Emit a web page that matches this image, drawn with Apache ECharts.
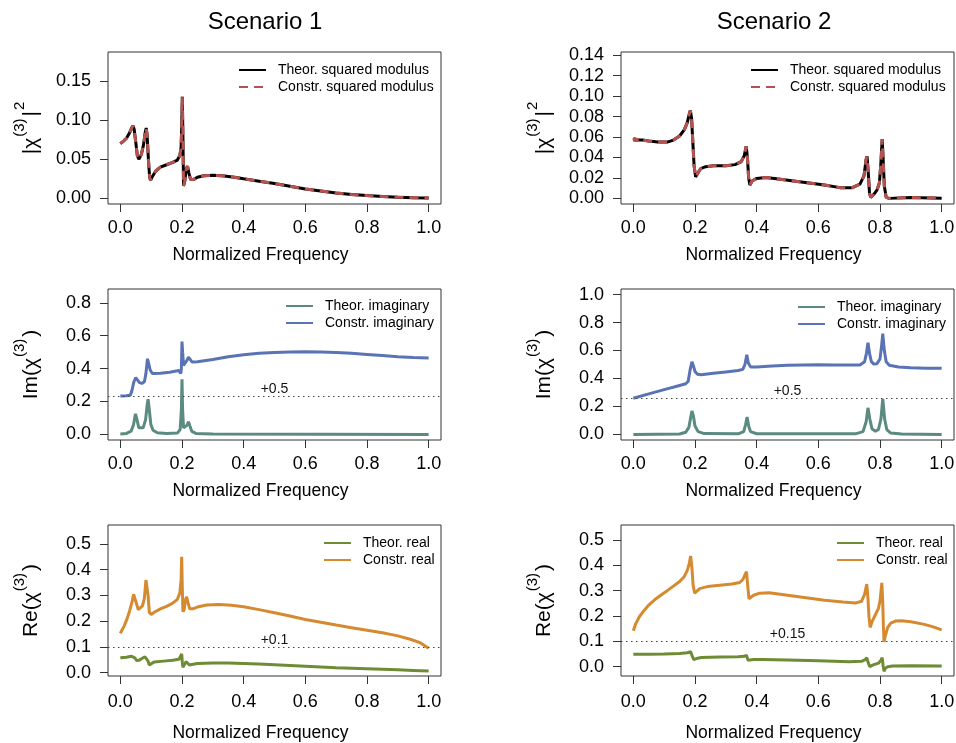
<!DOCTYPE html>
<html>
<head>
<meta charset="utf-8">
<script src="https://cdn.jsdelivr.net/npm/echarts@6/dist/echarts.min.js"></script>
<style>
  html, body { margin: 0; padding: 0; background: #fff; }
  #chart { width: 956px; height: 743px; }
</style>
</head>
<body>
<div id="chart"></div>
<script>
// ---- data ----
var xTicks = [0, 0.2, 0.4, 0.6, 0.8, 1.0];

// Scenario 1, squared modulus
var sq1Freq = [0, 0.01, 0.02, 0.03, 0.037, 0.041, 0.045, 0.05, 0.055, 0.06, 0.068, 0.075, 0.081, 0.084, 0.087, 0.091, 0.095, 0.098, 0.104, 0.115, 0.13, 0.15, 0.17, 0.185, 0.193, 0.197, 0.199, 0.201, 0.203, 0.205, 0.209, 0.214, 0.218, 0.222, 0.228, 0.237, 0.25, 0.27, 0.3, 0.33, 0.37, 0.4, 0.45, 0.5, 0.55, 0.6, 0.65, 0.7, 0.75, 0.8, 0.85, 0.9, 0.95, 1.0];
var sq1Theor = [0.070, 0.073, 0.077, 0.084, 0.090, 0.093, 0.088, 0.072, 0.055, 0.050, 0.056, 0.068, 0.085, 0.090, 0.080, 0.050, 0.027, 0.023, 0.028, 0.035, 0.040, 0.043, 0.046, 0.049, 0.055, 0.065, 0.090, 0.130, 0.080, 0.016, 0.022, 0.038, 0.041, 0.033, 0.024, 0.024, 0.027, 0.029, 0.0295, 0.029, 0.027, 0.025, 0.022, 0.019, 0.0155, 0.012, 0.0095, 0.007, 0.005, 0.0036, 0.0025, 0.0015, 0.0009, 0.0005];
var sq1Constr = sq1Theor;

// Scenario 2, squared modulus
var sq2Freq = [0, 0.005, 0.01, 0.015, 0.02, 0.03, 0.05, 0.08, 0.11, 0.13, 0.15, 0.165, 0.175, 0.181, 0.185, 0.189, 0.193, 0.197, 0.202, 0.208, 0.218, 0.235, 0.26, 0.3, 0.33, 0.35, 0.36, 0.366, 0.37, 0.374, 0.378, 0.385, 0.4, 0.43, 0.47, 0.52, 0.57, 0.62, 0.67, 0.71, 0.735, 0.748, 0.755, 0.758, 0.762, 0.766, 0.77, 0.78, 0.79, 0.798, 0.803, 0.807, 0.81, 0.814, 0.82, 0.83, 0.9, 1.0];
var sq2Theor = [0.057, 0.057, 0.057, 0.057, 0.057, 0.057, 0.056, 0.055, 0.055, 0.057, 0.061, 0.067, 0.074, 0.082, 0.086, 0.078, 0.055, 0.032, 0.021, 0.024, 0.029, 0.031, 0.032, 0.032, 0.033, 0.036, 0.042, 0.051, 0.040, 0.020, 0.013, 0.017, 0.0195, 0.0205, 0.019, 0.017, 0.015, 0.013, 0.0105, 0.0105, 0.014, 0.022, 0.038, 0.041, 0.025, 0.005, 0.001, 0.004, 0.008, 0.015, 0.035, 0.058, 0.040, 0.012, 0.001, 0.000, 0.0008, 0.0002];
var sq2Constr = [0.057, 0.059, 0.056, 0.058, 0.056, 0.057, 0.056, 0.055, 0.055, 0.057, 0.061, 0.067, 0.074, 0.082, 0.086, 0.078, 0.055, 0.032, 0.021, 0.024, 0.029, 0.031, 0.032, 0.032, 0.033, 0.036, 0.042, 0.051, 0.040, 0.020, 0.013, 0.017, 0.0195, 0.0205, 0.019, 0.017, 0.015, 0.013, 0.0105, 0.0105, 0.014, 0.022, 0.038, 0.041, 0.025, 0.005, 0.001, 0.004, 0.008, 0.015, 0.035, 0.058, 0.040, 0.012, 0.001, 0.000, 0.0008, 0.0002];

// Scenario 1, imaginary part
var im1TheorFreq = [0, 0.02, 0.035, 0.043, 0.049, 0.054, 0.06, 0.066, 0.074, 0.082, 0.087, 0.09, 0.094, 0.099, 0.106, 0.12, 0.15, 0.185, 0.194, 0.198, 0.2, 0.202, 0.205, 0.21, 0.216, 0.221, 0.226, 0.232, 0.245, 0.3, 1.0];
var im1Theor = [0.003, 0.006, 0.020, 0.060, 0.125, 0.090, 0.040, 0.030, 0.040, 0.090, 0.180, 0.214, 0.150, 0.060, 0.025, 0.010, 0.005, 0.008, 0.030, 0.150, 0.335, 0.150, 0.040, 0.035, 0.055, 0.077, 0.050, 0.018, 0.006, 0.002, 0.0];
var im1ConstrFreq = [0, 0.02, 0.033, 0.038, 0.044, 0.05, 0.055, 0.062, 0.07, 0.078, 0.083, 0.088, 0.092, 0.097, 0.104, 0.13, 0.16, 0.19, 0.196, 0.198, 0.2, 0.202, 0.205, 0.21, 0.216, 0.221, 0.226, 0.233, 0.25, 0.3, 0.35, 0.4, 0.45, 0.5, 0.55, 0.6, 0.65, 0.7, 0.75, 0.8, 0.85, 0.9, 0.95, 1.0];
var im1Constr = [0.233, 0.235, 0.24, 0.27, 0.32, 0.345, 0.34, 0.315, 0.31, 0.32, 0.37, 0.46, 0.43, 0.39, 0.37, 0.372, 0.378, 0.388, 0.37, 0.40, 0.565, 0.50, 0.42, 0.425, 0.45, 0.47, 0.46, 0.44, 0.442, 0.455, 0.472, 0.484, 0.493, 0.498, 0.501, 0.502, 0.501, 0.498, 0.493, 0.486, 0.479, 0.472, 0.467, 0.464];

// Scenario 2, imaginary part
var im2TheorFreq = [0, 0.15, 0.17, 0.18, 0.186, 0.19, 0.195, 0.2, 0.21, 0.23, 0.34, 0.358, 0.364, 0.369, 0.374, 0.38, 0.4, 0.72, 0.745, 0.755, 0.761, 0.767, 0.774, 0.785, 0.795, 0.803, 0.809, 0.815, 0.822, 0.835, 0.87, 1.0];
var im2Theor = [0.0, 0.003, 0.015, 0.05, 0.12, 0.168, 0.13, 0.06, 0.02, 0.006, 0.004, 0.02, 0.07, 0.124, 0.06, 0.02, 0.005, 0.004, 0.02, 0.09, 0.19, 0.11, 0.04, 0.022, 0.035, 0.11, 0.254, 0.11, 0.035, 0.01, 0.003, 0.0];
var im2ConstrFreq = [0, 0.05, 0.1, 0.15, 0.17, 0.178, 0.184, 0.19, 0.195, 0.2, 0.208, 0.22, 0.26, 0.3, 0.34, 0.355, 0.362, 0.368, 0.373, 0.38, 0.4, 0.45, 0.5, 0.55, 0.6, 0.65, 0.7, 0.735, 0.75, 0.756, 0.761, 0.766, 0.772, 0.78, 0.79, 0.8, 0.805, 0.809, 0.814, 0.82, 0.83, 0.86, 0.9, 0.95, 1.0];
var im2Constr = [0.259, 0.29, 0.32, 0.35, 0.362, 0.38, 0.46, 0.52, 0.49, 0.45, 0.43, 0.427, 0.437, 0.447, 0.457, 0.465, 0.50, 0.57, 0.51, 0.483, 0.482, 0.49, 0.495, 0.497, 0.498, 0.497, 0.496, 0.497, 0.52, 0.58, 0.655, 0.58, 0.52, 0.503, 0.505, 0.54, 0.63, 0.72, 0.6, 0.52, 0.495, 0.482, 0.476, 0.474, 0.474];

// Scenario 1, real part
var re1TheorFreq = [0, 0.02, 0.035, 0.041, 0.047, 0.053, 0.06, 0.07, 0.08, 0.085, 0.09, 0.094, 0.1, 0.11, 0.14, 0.17, 0.19, 0.196, 0.199, 0.201, 0.203, 0.207, 0.213, 0.218, 0.224, 0.232, 0.25, 0.3, 0.35, 0.4, 0.45, 0.5, 0.55, 0.6, 0.65, 0.7, 0.75, 0.8, 0.85, 0.9, 0.95, 1.0];
var re1Theor = [0.058, 0.060, 0.064, 0.065, 0.058, 0.047, 0.048, 0.055, 0.062, 0.060, 0.045, 0.030, 0.036, 0.042, 0.045, 0.048, 0.052, 0.058, 0.073, 0.040, 0.021, 0.030, 0.043, 0.040, 0.030, 0.032, 0.036, 0.038, 0.038, 0.036, 0.034, 0.031, 0.028, 0.025, 0.022, 0.019, 0.017, 0.015, 0.013, 0.011, 0.009, 0.007];
var re1ConstrFreq = [0, 0.005, 0.012, 0.022, 0.03, 0.037, 0.043, 0.047, 0.052, 0.058, 0.064, 0.072, 0.078, 0.083, 0.086, 0.09, 0.094, 0.1, 0.11, 0.13, 0.15, 0.17, 0.185, 0.193, 0.197, 0.199, 0.201, 0.203, 0.207, 0.212, 0.215, 0.22, 0.225, 0.235, 0.25, 0.28, 0.32, 0.36, 0.4, 0.45, 0.5, 0.55, 0.6, 0.65, 0.7, 0.75, 0.8, 0.85, 0.9, 0.94, 0.97, 1.0];
var re1Constr = [0.153, 0.165, 0.18, 0.21, 0.24, 0.27, 0.305, 0.30, 0.27, 0.245, 0.245, 0.26, 0.29, 0.36, 0.365, 0.30, 0.235, 0.226, 0.235, 0.248, 0.258, 0.27, 0.285, 0.31, 0.36, 0.45, 0.33, 0.237, 0.245, 0.285, 0.295, 0.27, 0.248, 0.248, 0.255, 0.263, 0.265, 0.262, 0.256, 0.245, 0.233, 0.22, 0.207, 0.196, 0.185, 0.175, 0.165, 0.155, 0.143, 0.13, 0.118, 0.095];

// Scenario 2, real part
var re2TheorFreq = [0, 0.05, 0.1, 0.15, 0.175, 0.186, 0.19, 0.196, 0.205, 0.22, 0.28, 0.34, 0.36, 0.367, 0.372, 0.378, 0.39, 0.42, 0.5, 0.6, 0.7, 0.74, 0.752, 0.757, 0.762, 0.767, 0.778, 0.795, 0.803, 0.807, 0.81, 0.813, 0.818, 0.826, 0.84, 0.9, 1.0];
var re2Theor = [0.049, 0.049, 0.050, 0.052, 0.055, 0.059, 0.045, 0.028, 0.032, 0.036, 0.038, 0.039, 0.041, 0.045, 0.025, 0.020, 0.028, 0.028, 0.026, 0.023, 0.020, 0.021, 0.028, 0.036, 0.015, 0.0, 0.007, 0.014, 0.025, 0.036, 0.005, -0.018, -0.005, 0.0, 0.003, 0.004, 0.003];
var re2ConstrFreq = [0, 0.008, 0.02, 0.035, 0.05, 0.07, 0.09, 0.11, 0.13, 0.15, 0.165, 0.175, 0.181, 0.186, 0.19, 0.194, 0.199, 0.205, 0.215, 0.24, 0.28, 0.32, 0.345, 0.356, 0.362, 0.367, 0.371, 0.375, 0.38, 0.39, 0.41, 0.44, 0.5, 0.56, 0.62, 0.68, 0.72, 0.74, 0.75, 0.757, 0.761, 0.764, 0.768, 0.775, 0.785, 0.795, 0.8, 0.806, 0.809, 0.811, 0.813, 0.818, 0.825, 0.835, 0.85, 0.87, 0.9, 0.94, 0.97, 1.0];
var re2Constr = [0.142, 0.17, 0.198, 0.222, 0.243, 0.265, 0.283, 0.300, 0.318, 0.336, 0.355, 0.38, 0.405, 0.437, 0.39, 0.32, 0.29, 0.295, 0.308, 0.316, 0.321, 0.326, 0.332, 0.345, 0.362, 0.375, 0.32, 0.268, 0.262, 0.282, 0.29, 0.292, 0.282, 0.272, 0.262, 0.255, 0.251, 0.258, 0.285, 0.326, 0.27, 0.2, 0.155, 0.18, 0.205, 0.23, 0.26, 0.331, 0.25, 0.16, 0.098, 0.125, 0.155, 0.172, 0.18, 0.181, 0.177, 0.168, 0.158, 0.145];

// dotted offset lines and their labels (panels 3-6)
var offsetLevels = [0.23, 0.257, 0.097, 0.099];
var offsetLabels = ['+0.5', '+0.5', '+0.1', '+0.15'];

var yTicks = [
  [0, 0.05, 0.10, 0.15],
  [0, 0.02, 0.04, 0.06, 0.08, 0.10, 0.12, 0.14],
  [0, 0.2, 0.4, 0.6, 0.8],
  [0, 0.2, 0.4, 0.6, 0.8, 1.0],
  [0, 0.1, 0.2, 0.3, 0.4, 0.5],
  [0, 0.1, 0.2, 0.3, 0.4, 0.5]
];
var yDigits = [2, 2, 1, 1, 1, 1];
var yRanges = [[-0.0072, 0.1872], [-0.0055, 0.1431], [-0.034, 0.884], [-0.04, 1.04], [-0.0128, 0.5738], [-0.0367, 0.559]];
var yNames = [
  '{n||χ}{s|(3)}{n||}{s|2}', '{n||χ}{s|(3)}{n||}{s|2}',
  '{n|Im(χ}{s|(3)}{n|)}', '{n|Im(χ}{s|(3)}{n|)}',
  '{n|Re(χ}{s|(3)}{n|)}', '{n|Re(χ}{s|(3)}{n|)}'
];

var FONT = 'Liberation Sans, Arial, Helvetica, sans-serif';
var myChart = echarts.init(document.getElementById('chart'), null, { renderer: 'canvas' });

var gridPos = [
  { left: 108, top: 52, width: 333, height: 152 },
  { left: 621, top: 52, width: 333, height: 152 },
  { left: 108, top: 289, width: 333, height: 151 },
  { left: 621, top: 289, width: 333, height: 151 },
  { left: 108, top: 525, width: 333, height: 151 },
  { left: 621, top: 525, width: 333, height: 151 }
];
var xNameGaps = [42, 42, 42, 42, 48, 48];
var xLabelMargins = [15, 15, 15, 15, 17, 17];

function pairs(xs, ys) {
  return xs.map(function (x, i) { return [x, ys[i]]; });
}

var grids = [], xAxes = [], yAxes = [];
gridPos.forEach(function (g, i) {
  grids.push({
    left: g.left, top: g.top, width: g.width, height: g.height,
    show: true, borderColor: '#333', borderWidth: 1, backgroundColor: 'transparent',
    outerBoundsMode: 'none'
  });
  xAxes.push({
    type: 'value', gridIndex: i, min: -0.04, max: 1.04,
    axisLine: { show: false, onZero: false },
    splitLine: { show: false },
    axisTick: { show: true, length: 8, lineStyle: { color: '#333' }, customValues: xTicks },
    axisLabel: { customValues: xTicks, margin: xLabelMargins[i], fontSize: 18, color: '#000', fontFamily: FONT,
      formatter: function (v) { return v.toFixed(1); } },
    name: 'Normalized Frequency', nameLocation: 'middle', nameGap: xNameGaps[i],
    nameTextStyle: { fontSize: 17.5, color: '#000', fontFamily: FONT, padding: [0, 28, 0, 0] }
  });
  yAxes.push({
    type: 'value', gridIndex: i, min: yRanges[i][0], max: yRanges[i][1],
    axisLine: { show: false, onZero: false },
    splitLine: { show: false },
    axisTick: { show: true, length: 8, lineStyle: { color: '#333' }, customValues: yTicks[i] },
    axisLabel: { customValues: yTicks[i], margin: 17, fontSize: 18, color: '#000', fontFamily: FONT,
      formatter: (function (d) { return function (v) { return v.toFixed(d); }; })(yDigits[i]) },
    name: yNames[i], nameLocation: 'middle', nameRotate: 90, nameGap: 66,
    nameTextStyle: {
      rich: {
        n: { fontSize: 21, color: '#000', fontFamily: FONT, lineHeight: 30, verticalAlign: 'bottom', padding: [0, 1, 0, 1] },
        s: { fontSize: 15, color: '#000', fontFamily: FONT, lineHeight: 30, verticalAlign: 'top', padding: [0, 1, 0, 0] }
      }
    }
  });
});

var BLACK = '#000000', BROWN = '#b5524f', TEAL = '#5b8a80', BLUE = '#5a73b4', OLIVE = '#6e8c34', ORANGE = '#d68a30';

function lineSeries(name, idx, data, color, dashed) {
  return {
    name: name, type: 'line', xAxisIndex: idx, yAxisIndex: idx,
    data: data, symbol: 'none', smooth: false, animation: false,
    lineStyle: { color: color, width: 3, type: dashed ? [9, 6] : 'solid' },
    itemStyle: { color: color }
  };
}

function withOffset(s, k) {
  s.markLine = {
    silent: true, symbol: ['none', 'none'], animation: false,
    lineStyle: { type: [1.5, 3.5], color: '#444', width: 1.2 },
    label: { show: true, position: 'insideMiddleTop', formatter: offsetLabels[k],
      color: '#111', fontSize: 14, fontFamily: FONT, distance: 0 },
    data: [{ yAxis: offsetLevels[k] }]
  };
  return s;
}

var series = [
  lineSeries('Theor. squared modulus', 0, pairs(sq1Freq, sq1Theor), BLACK, false),
  lineSeries('Constr. squared modulus', 0, pairs(sq1Freq, sq1Constr), BROWN, true),
  lineSeries('Theor. squared modulus', 1, pairs(sq2Freq, sq2Theor), BLACK, false),
  lineSeries('Constr. squared modulus', 1, pairs(sq2Freq, sq2Constr), BROWN, true),
  lineSeries('Theor. imaginary', 2, pairs(im1TheorFreq, im1Theor), TEAL, false),
  withOffset(lineSeries('Constr. imaginary', 2, pairs(im1ConstrFreq, im1Constr), BLUE, false), 0),
  lineSeries('Theor. imaginary', 3, pairs(im2TheorFreq, im2Theor), TEAL, false),
  withOffset(lineSeries('Constr. imaginary', 3, pairs(im2ConstrFreq, im2Constr), BLUE, false), 1),
  lineSeries('Theor. real', 4, pairs(re1TheorFreq, re1Theor), OLIVE, false),
  withOffset(lineSeries('Constr. real', 4, pairs(re1ConstrFreq, re1Constr), ORANGE, false), 2),
  lineSeries('Theor. real', 5, pairs(re2TheorFreq, re2Theor), OLIVE, false),
  withOffset(lineSeries('Constr. real', 5, pairs(re2ConstrFreq, re2Constr), ORANGE, false), 3)
];

function legendAt(left, top, names) {
  return {
    left: left, top: top, orient: 'vertical', itemWidth: 27, itemHeight: 14, itemGap: 3,
    padding: 0, selectedMode: false, data: names,
    itemStyle: { opacity: 0 },
    textStyle: { fontSize: 14, color: '#000', fontFamily: FONT, padding: [0, 0, 0, 7] }
  };
}
var sqNames = ['Theor. squared modulus', 'Constr. squared modulus'];
var imNames = ['Theor. imaginary', 'Constr. imaginary'];
var reNames = ['Theor. real', 'Constr. real'];

var option = {
  animation: false,
  backgroundColor: '#ffffff',
  textStyle: { fontFamily: FONT },
  grid: grids,
  xAxis: xAxes,
  yAxis: yAxes,
  legend: [
    legendAt(238, 63, sqNames), legendAt(750, 63, sqNames),
    legendAt(285, 299, imNames), legendAt(797, 300, imNames),
    legendAt(323, 536, reNames), legendAt(836, 536, reNames)
  ],
  graphic: [
    { type: 'text', x: 265, y: 22, style: { text: 'Scenario 1', fontSize: 24, fontFamily: FONT, fill: '#000', align: 'center', verticalAlign: 'middle' } },
    { type: 'text', x: 774, y: 22, style: { text: 'Scenario 2', fontSize: 24, fontFamily: FONT, fill: '#000', align: 'center', verticalAlign: 'middle' } }
  ],
  series: series
};
myChart.setOption(option);
</script>
</body>
</html>
